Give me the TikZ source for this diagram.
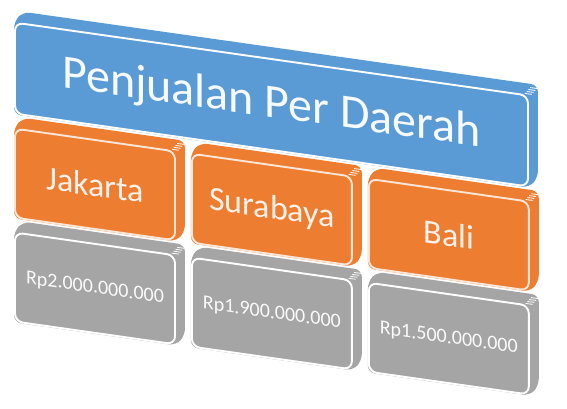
\documentclass[tikz,border=0pt]{standalone}
\usepackage{fontspec}
\setmainfont{Carlito}
\usepackage{tikz}
\usetikzlibrary{positioning, calc, backgrounds}
\definecolor{pdBlue}{HTML}{5B9BD5}
\definecolor{pdOrange}{HTML}{ED7D31}
\definecolor{pdGray}{HTML}{A5A5A5}
\definecolor{pdCream}{HTML}{FBE5D6}
\tikzset{
  pdnode/.style={
    draw=white, line width=1.9pt, rounded corners=8pt, transform shape,
    inner sep=0pt, align=center
  },
  judul/.style={pdnode, fill=pdBlue, minimum width=513pt, minimum height=91pt,
    text=white!95!pdBlue, font=\fontsize{48}{50}\selectfont},
  kota/.style={pdnode, fill=pdOrange, draw=pdCream, minimum width=160pt, minimum height=89pt,
    text=pdCream!50!white, font=\fontsize{34}{36}\selectfont},
  nilai/.style={pdnode, fill=pdGray, minimum width=160pt, minimum height=89pt,
    text=white!95!pdGray, font=\fontsize{20}{22}\selectfont},
  slab/.style={rounded corners=7pt},
  bevel/.style={draw=white, line width=0.8pt}
}

\begin{document}
\begin{tikzpicture}[x=1pt, y=1pt, node distance=13pt and 15pt]
  \useasboundingbox (0,0) rectangle (567,408);
  \begin{scope}[yslant=-0.142]
    \node[judul] (judul) at (271.5,342) {Penjualan Per Daerah};
    \node[kota] (jkt) at (95,237) {Jakarta};
    \node[kota, right=of jkt] (sby) {Surabaya};
    \node[kota, right=of sby] (bali) {Bali};
    \node[nilai, below=of jkt] (njkt) {Rp2.000.000.000};
    \node[nilai, below=of sby] (nsby) {Rp1.900.000.000};
    \node[nilai, below=of bali] (nbali) {Rp1.500.000.000};
    % badan kotak (sisi atas dan samping)
    \begin{scope}[on background layer]
      \foreach \n/\c in {judul/pdBlue, jkt/pdOrange, sby/pdOrange, bali/pdOrange,
          njkt/pdGray, nsby/pdGray, nbali/pdGray} {
        \fill[\c, slab] (\n.south west) -- (\n.north west) -- ($(\n.north west)+(9,11)$)
          -- ($(\n.north east)+(9,11)$) -- ($(\n.south east)+(9,11)$) -- (\n.south east) -- cycle;
        \foreach \t in {0.2,0.4,0.6,0.8}
          \draw[bevel] ($(\n.north east)+\t*(9,11)+(-6,-1.5)$) -- ++(7,0);
      }
    \end{scope}
  \end{scope}
\end{tikzpicture}
\end{document}
